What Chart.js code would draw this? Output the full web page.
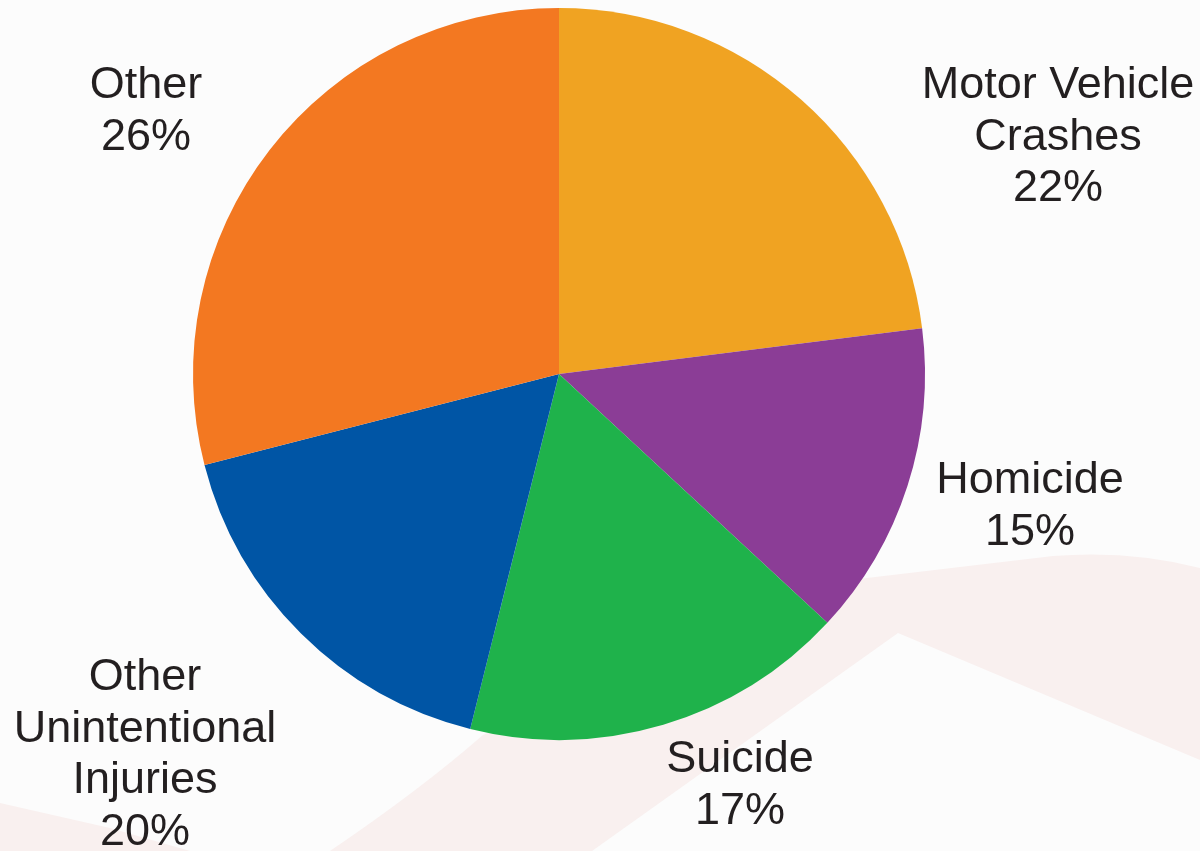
<!DOCTYPE html>
<html>
<head>
<meta charset="utf-8">
<script src="https://cdn.jsdelivr.net/npm/chart.js@4/dist/chart.umd.min.js"></script>
<style>
  html, body { margin: 0; padding: 0; background: #fcfcfc; }
  #wrap { width: 1200px; height: 851px; position: relative; }
</style>
</head>
<body>
<div id="wrap"><canvas id="c" width="1200" height="851"></canvas></div>
<script>
// ---- data ----
const categories = ['Motor Vehicle Crashes', 'Homicide', 'Suicide', 'Other Unintentional Injuries', 'Other'];
const labelLines = [['Motor Vehicle', 'Crashes'], ['Homicide'], ['Suicide'], ['Other', 'Unintentional', 'Injuries'], ['Other']];
const percentLabels = ['22%', '15%', '17%', '20%', '26%'];
// slice sizes as drawn in the picture (angles measured)
const sliceShares = [23.0, 13.9, 17.0, 17.1, 29.0];

// ---- styles ----
const sliceColors = ['#F0A322', '#8B3D96', '#1FB24B', '#0055A5', '#F37821'];
const labelAnchors = [ // x centre and first baseline for each label block
  { x: 1058, y: 98 },
  { x: 1030, y: 493 },
  { x: 740, y: 772 },
  { x: 145, y: 690 },
  { x: 146, y: 98 }
];

const backgroundPlugin = {
  id: 'bgBand',
  beforeDraw(chart) {
    const ctx = chart.ctx;
    ctx.save();
    ctx.fillStyle = '#fcfcfc';
    ctx.fillRect(0, 0, chart.width, chart.height);
    ctx.fillStyle = '#f9f0ef';
    // broad band behind the lower right
    ctx.beginPath();
    ctx.moveTo(330, 851);
    ctx.quadraticCurveTo(420, 790, 483, 735);
    ctx.lineTo(833, 582);
    ctx.lineTo(1053, 556);
    ctx.quadraticCurveTo(1130, 550, 1200, 568);
    ctx.lineTo(1200, 760);
    ctx.lineTo(898, 633);
    ctx.lineTo(592, 851);
    ctx.closePath();
    ctx.fill();
    // wedge at bottom left
    ctx.beginPath();
    ctx.moveTo(0, 803);
    ctx.lineTo(110, 828);
    ctx.lineTo(190, 851);
    ctx.lineTo(0, 851);
    ctx.closePath();
    ctx.fill();
    ctx.restore();
  }
};

const labelPlugin = {
  id: 'sliceLabels',
  afterDraw(chart) {
    const ctx = chart.ctx;
    ctx.save();
    ctx.fillStyle = '#231F20';
    ctx.font = '45px "Liberation Sans", Arial, sans-serif';
    ctx.textAlign = 'center';
    ctx.textBaseline = 'alphabetic';
    const lh = 51.7;
    chart.data.labels.forEach((_, i) => {
      const lines = labelLines[i].concat([percentLabels[i]]);
      const a = labelAnchors[i];
      lines.forEach((t, k) => ctx.fillText(t, a.x, a.y + k * lh));
    });
    ctx.restore();
  }
};

new Chart(document.getElementById('c'), {
  type: 'pie',
  data: {
    labels: categories,
    datasets: [{
      data: sliceShares,
      backgroundColor: sliceColors,
      borderWidth: 0
    }]
  },
  options: {
    responsive: false,
    animation: false,
    rotation: 0,
    layout: { padding: { left: 193, right: 275, top: 8, bottom: 111 } },
    plugins: {
      legend: { display: false },
      tooltip: { enabled: false }
    }
  },
  plugins: [backgroundPlugin, labelPlugin]
});
</script>
</body>
</html>
